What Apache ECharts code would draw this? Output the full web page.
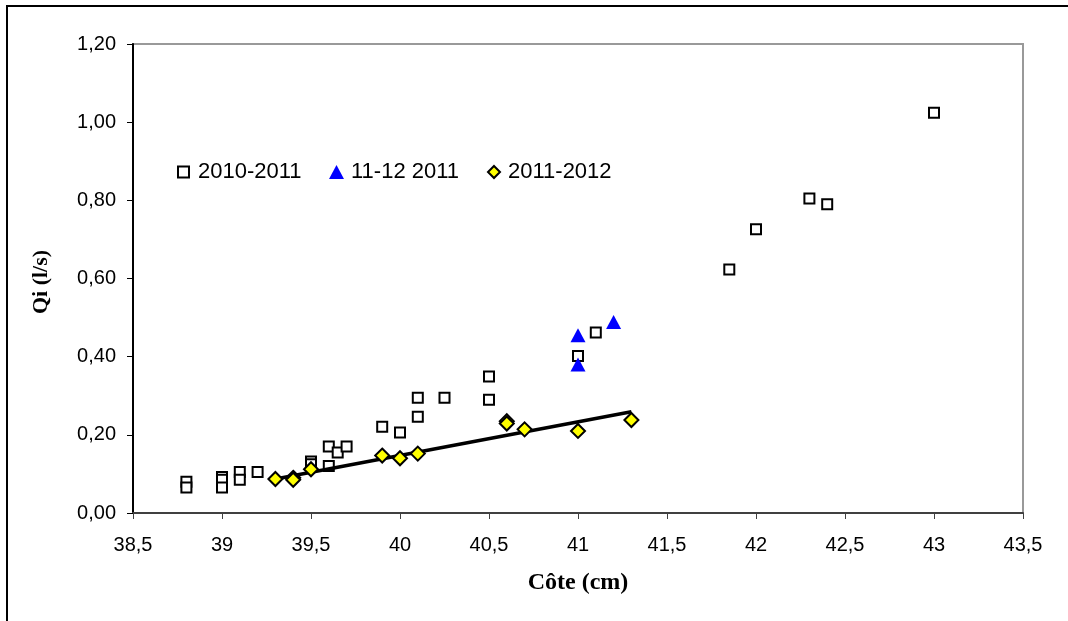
<!DOCTYPE html>
<html>
<head>
<meta charset="utf-8">
<script src="https://cdn.jsdelivr.net/npm/echarts@6/dist/echarts.min.js"></script>
<style>
html,body{margin:0;padding:0;background:#fff;}
#chart{width:1068px;height:621px;}
</style>
</head>
<body>
<div id="chart"></div>
<script>
// ---- data ----
const seriesNames = ['2010-2011', '11-12 2011', '2011-2012'];
const s1X = [38.8, 38.8, 39.0, 39.0, 39.0, 39.1, 39.1, 39.2, 39.5, 39.5, 39.6, 39.6, 39.65, 39.7, 39.9, 40.0, 40.1, 40.1, 40.25, 40.5, 40.5, 41.0, 41.1, 41.85, 42.0, 42.3, 42.4, 43.0];
const s1Y = [0.080, 0.065, 0.092, 0.085, 0.065, 0.105, 0.085, 0.105, 0.132, 0.125, 0.120, 0.170, 0.155, 0.170, 0.221, 0.206, 0.295, 0.246, 0.295, 0.349, 0.290, 0.402, 0.462, 0.623, 0.726, 0.805, 0.790, 1.024];
const s2X = [41.0, 41.0, 41.2];
const s2Y = [0.455, 0.380, 0.489];
const s3X = [39.3, 39.4, 39.4, 39.5, 39.9, 40.0, 40.1, 40.6, 40.6, 40.7, 41.0, 41.3];
const s3Y = [0.087, 0.090, 0.085, 0.112, 0.147, 0.140, 0.152, 0.235, 0.229, 0.214, 0.210, 0.238];
const trendX = [39.3, 41.3];
const trendY = [0.087, 0.259];
const xTicks = {min: 38.5, max: 43.5, step: 0.5};
const yTicks = {min: 0, max: 1.2, step: 0.2};
const xTitle = 'Côte (cm)';
const yTitle = 'Qi (l/s)';

const zip = (xs, ys) => xs.map((x, i) => [x, ys[i]]);
const sans = '"Liberation Sans", Arial, sans-serif';
const serif = '"Liberation Serif", "Times New Roman", serif';

function legendFor(name, left, w, h, padLeft) {
  return {
    left: left, top: 172 - 11, padding: 0, itemWidth: w, itemHeight: h,
    textStyle: {fontFamily: sans, fontSize: 22, color: '#000', padding: [0, 0, 0, padLeft]},
    data: [name]
  };
}

const chart = echarts.init(document.getElementById('chart'), null, {renderer: 'canvas'});
chart.setOption({
  animation: false,
  backgroundColor: '#fff',
  graphic: [
    {type: 'rect', shape: {x: 7, y: 6, width: 1200, height: 800}, style: {fill: 'none', stroke: '#000', lineWidth: 2}, z: 0},
    {type: 'text', x: 578, y: 583, style: {text: xTitle, font: 'bold 24px ' + serif, fill: '#000', align: 'center', verticalAlign: 'middle'}},
    {type: 'text', x: 41, y: 282, rotation: Math.PI / 2, style: {text: yTitle, font: 'bold 22px ' + serif, fill: '#000', align: 'center', verticalAlign: 'middle'}}
  ],
  grid: {left: 133, right: 45, top: 44, bottom: 108, show: true, borderColor: '#999', borderWidth: 2, backgroundColor: '#fff'},
  legend: [
    legendFor(seriesNames[0], 177, 11, 11, 4),
    legendFor(seriesNames[1], 329, 15, 14, 2),
    legendFor(seriesNames[2], 487, 12, 12, 3)
  ],
  xAxis: {
    type: 'value', min: xTicks.min, max: xTicks.max, interval: xTicks.step,
    axisLine: {lineStyle: {color: '#404040', width: 2}},
    axisTick: {show: true, length: 6, lineStyle: {color: '#404040', width: 1}},
    splitLine: {show: false},
    axisLabel: {fontFamily: sans, fontSize: 20, color: '#000', margin: 22,
      formatter: v => String(Math.round(v * 10) / 10).replace('.', ',')}
  },
  yAxis: {
    type: 'value', min: yTicks.min, max: yTicks.max, interval: yTicks.step,
    axisLine: {show: true, lineStyle: {color: '#000', width: 2}},
    axisTick: {show: true, length: 6, lineStyle: {color: '#000', width: 1}},
    splitLine: {show: false},
    axisLabel: {fontFamily: sans, fontSize: 20, color: '#000', margin: 17,
      formatter: v => v.toFixed(2).replace('.', ',')}
  },
  series: [
    {name: seriesNames[0], type: 'scatter', symbol: 'rect', symbolSize: 10, data: zip(s1X, s1Y),
      itemStyle: {color: '#fff', borderColor: '#000', borderWidth: 2, opacity: 1}, z: 3},
    {name: seriesNames[1], type: 'scatter', symbol: 'triangle', symbolSize: [15, 14], data: zip(s2X, s2Y),
      itemStyle: {color: '#0000ff', opacity: 1}, z: 4},
    {name: 'trend', type: 'line', data: zip(trendX, trendY), symbol: 'none',
      lineStyle: {color: '#000', width: 3.5}, z: 5, silent: true},
    {name: seriesNames[2], type: 'scatter', symbol: 'diamond', symbolSize: 14, data: zip(s3X, s3Y),
      itemStyle: {color: '#ffff00', borderColor: '#000', borderWidth: 2, opacity: 1}, z: 6}
  ]
});
</script>
</body>
</html>
